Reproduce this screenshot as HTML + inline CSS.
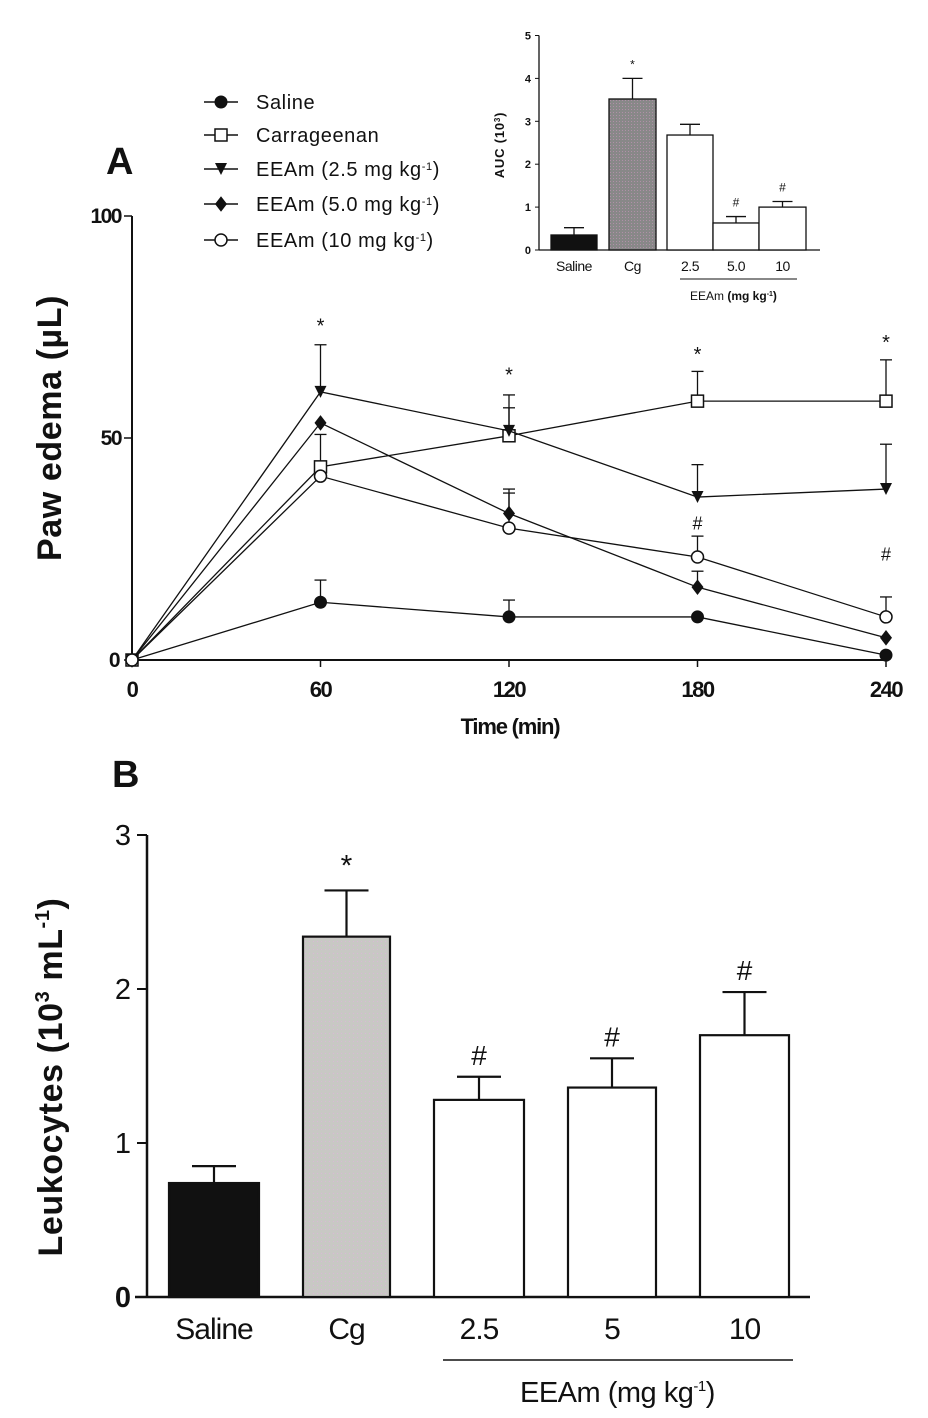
<!DOCTYPE html>
<html><head><meta charset="utf-8"><style>
html,body{margin:0;padding:0;background:#fff;}
svg{display:block;}
text{font-family:"Liberation Sans",Arial,sans-serif;fill:#111;}
</style></head><body>
<svg id="fig" width="928" height="1418" viewBox="0 0 928 1418" xmlns="http://www.w3.org/2000/svg">
<defs>
<pattern id="dots" width="4" height="4" patternUnits="userSpaceOnUse"><rect width="4" height="4" fill="#c8c8c4"/><rect x="1" y="1" width="1" height="1" fill="#d9b8d6"/></pattern>
<pattern id="dots2" width="3" height="3" patternUnits="userSpaceOnUse"><rect width="3" height="3" fill="#888"/><rect x="1" y="1" width="1" height="1" fill="#b090a8"/></pattern>
</defs>
<g id="gA"></g>
<g id="gI"></g>
<g id="gB"></g>
</svg>
<script>
// ---- Panel A data ----
const timePoints = [0, 60, 120, 180, 240];
const salineMean = [0, 13, 9.7, 9.7, 1.1];
const salineErr = [0, 5, 3.8, 0, 0];
const cgMean = [0, 43.5, 50.5, 58.3, 58.3];
const cgErr = [0, 7.3, 9.2, 6.7, 9.3];
const eeam25Mean = [0, 60.4, 51.6, 36.7, 38.5];
const eeam25Err = [0, 10.6, 5.2, 7.3, 10.1];
const eeam5Mean = [0, 53.4, 33, 16.4, 5];
const eeam5Err = [0, 0, 5.5, 3.6, 0];
const eeam10Mean = [0, 41.4, 29.7, 23.2, 9.7];
const eeam10Err = [0, 0, 7.9, 4.7, 4.5];
const aTicksY = [0, 50, 100];
const aTicksX = [0, 60, 120, 180, 240];
const starTimes = [60, 120, 180, 240];
const starVals = [76, 65, 69.6, 72.3];
const hashTimes = [180, 240];
const hashVals = [31, 24];
// ---- Inset data ----
const insetCats = ["Saline", "Cg", "2.5", "5.0", "10"];
const insetMean = [0.35, 3.52, 2.68, 0.63, 1.0];
const insetErr = [0.17, 0.48, 0.25, 0.15, 0.13];
const insetTicks = [0, 1, 2, 3, 4, 5];
const insetMarks = ["", "*", "", "#", "#"];
// ---- Panel B data ----
const bCats = ["Saline", "Cg", "2.5", "5", "10"];
const bMean = [0.74, 2.34, 1.28, 1.36, 1.70];
const bErr = [0.11, 0.30, 0.15, 0.19, 0.28];
const bTicks = [0, 1, 2, 3];
const bMarks = ["", "*", "#", "#", "#"];

const NS = "http://www.w3.org/2000/svg";
function mk(parent, tag, attrs, txt) {
  const e = document.createElementNS(NS, tag);
  for (const k in attrs) e.setAttribute(k, attrs[k]);
  if (txt !== undefined) e.textContent = txt;
  parent.appendChild(e);
  return e;
}

// ===== Panel A =====
const gA = document.getElementById('gA');
const ax = t => 132 + (t / 240) * (886 - 132);
const ay = v => 660 - v * 4.44;
let e;
e = mk(gA, 'text', {x: 106, y: 174, 'font-size': 38, 'font-weight': 'bold'}, 'A');
 
e = mk(gA, 'line', {x1: 132, y1: ay(100), x2: 132, y2: 660, stroke: '#111', 'stroke-width': 2});
 
e = mk(gA, 'line', {x1: 132, y1: 660, x2: 886, y2: 660, stroke: '#111', 'stroke-width': 2});
 
aTicksY.forEach(v => {
  e = mk(gA, 'line', {x1: 124, y1: ay(v), x2: 132, y2: ay(v), stroke: '#111', 'stroke-width': 1.5});
   
  e = mk(gA, 'text', {x: v === 0 ? 119 : 121, y: ay(v) + 7, 'font-size': 21, 'font-weight': 'bold', 'text-anchor': 'end', 'letter-spacing': -1.5}, String(v));
   
});
aTicksX.forEach(t => {
  e = mk(gA, 'line', {x1: ax(t), y1: 660, x2: ax(t), y2: 667, stroke: '#111', 'stroke-width': 1.5});
   
  e = mk(gA, 'text', {x: ax(t), y: 697, 'font-size': 22, 'font-weight': 'bold', 'text-anchor': 'middle', 'letter-spacing': -1.5}, String(t));
   
});
e = mk(gA, 'text', {x: 510, y: 734, 'font-size': 22, 'font-weight': 'bold', 'text-anchor': 'middle', 'letter-spacing': -1.2}, 'Time (min)');
 
e = mk(gA, 'text', {x: 0, y: 0, 'font-size': 34, 'font-weight': 'bold', 'text-anchor': 'middle', 'letter-spacing': 0.6, transform: 'translate(61,428) rotate(-90)'}, 'Paw edema (µL)');
 

function marker(g, type, x, y, s) {
  let m;
  if (type === 'circleF') m = mk(g, 'circle', {cx: x, cy: y, r: s, fill: '#111', stroke: '#111'});
  else if (type === 'square') m = mk(g, 'rect', {x: x - s, y: y - s, width: 2 * s, height: 2 * s, fill: '#fff', stroke: '#111', 'stroke-width': 1.5});
  else if (type === 'tri') m = mk(g, 'polygon', {points: `${x - s},${y - s} ${x + s},${y - s} ${x},${y + s}`, fill: '#111'});
  else if (type === 'diamond') m = mk(g, 'polygon', {points: `${x},${y - s * 1.3} ${x + s},${y} ${x},${y + s * 1.3} ${x - s},${y}`, fill: '#111'});
  else m = mk(g, 'circle', {cx: x, cy: y, r: s, fill: '#fff', stroke: '#111', 'stroke-width': 1.5});
  return m;
}
const series = [
  {name: 'saline', mean: salineMean, err: salineErr, type: 'circleF', label: 'Saline'},
  {name: 'carrageenan', mean: cgMean, err: cgErr, type: 'square', label: 'Carrageenan'},
  {name: 'eeam-2-5', mean: eeam25Mean, err: eeam25Err, type: 'tri', label: 'EEAm (2.5 mg kg'},
  {name: 'eeam-5-0', mean: eeam5Mean, err: eeam5Err, type: 'diamond', label: 'EEAm (5.0 mg kg'},
  {name: 'eeam-10', mean: eeam10Mean, err: eeam10Err, type: 'circleO', label: 'EEAm (10 mg kg'}
];
series.forEach(s => {
  const g = mk(gA, 'g', {});
   
  s.mean.forEach((v, i) => {
    if (s.err[i] > 0) {
      const y1 = ay(v), y2 = ay(v + s.err[i]);
      e = mk(g, 'line', {x1: ax(timePoints[i]), y1: y1, x2: ax(timePoints[i]), y2: y2, stroke: '#111', 'stroke-width': 1.3});
       
      e = mk(g, 'line', {x1: ax(timePoints[i]) - 6, y1: y2, x2: ax(timePoints[i]) + 6, y2: y2, stroke: '#111', 'stroke-width': 1.3});
       
    }
  });
  const pts = s.mean.map((v, i) => ax(timePoints[i]) + ',' + ay(v)).join(' ');
  e = mk(g, 'polyline', {points: pts, fill: 'none', stroke: '#111', 'stroke-width': 1.3});
   
  s.mean.forEach((v, i) => {
    e = marker(g, s.type, ax(timePoints[i]), ay(v), 6);
     
  });
});
starTimes.forEach((t, i) => {
  e = mk(gA, 'text', {x: ax(t), y: ay(starVals[i]) + 10, 'font-size': 20, 'text-anchor': 'middle'}, '*');
   
});
hashTimes.forEach((t, i) => {
  e = mk(gA, 'text', {x: ax(t), y: ay(hashVals[i]) + 7, 'font-size': 18, 'text-anchor': 'middle'}, '#');
   
});
// legend
const leg = mk(gA, 'g', {});
 
const legY = [102, 135, 169, 204, 240];
series.forEach((s, i) => {
  const g = mk(leg, 'g', {});
   
  mk(g, 'line', {x1: 204, y1: legY[i], x2: 238, y2: legY[i], stroke: '#111', 'stroke-width': 1.5});
  marker(g, s.type, 221, legY[i], 6);
  const t = mk(g, 'text', {x: 256, y: legY[i] + 7, 'font-size': 20, 'letter-spacing': 0.6}, s.label);
  if (i >= 2) { mk(t, 'tspan', {dy: -6, 'font-size': 11}, '-1'); mk(t, 'tspan', {dy: 6}, ')'); }
});

// ===== Inset =====
const gI = document.getElementById('gI');
const iy = v => 250 - v * 42.9;
const iBarX = [551, 609, 667, 713, 759];
const iBarW = [46, 47, 46, 46, 47];
e = mk(gI, 'line', {x1: 539, y1: iy(5), x2: 539, y2: 250, stroke: '#111', 'stroke-width': 1.3});
 
e = mk(gI, 'line', {x1: 539, y1: 250, x2: 820, y2: 250, stroke: '#111', 'stroke-width': 1.3});
 
insetTicks.forEach(v => {
  mk(gI, 'line', {x1: 535, y1: iy(v), x2: 539, y2: iy(v), stroke: '#111', 'stroke-width': 1});
  e = mk(gI, 'text', {x: 531, y: iy(v) + 4, 'font-size': 11, 'font-weight': 'bold', 'text-anchor': 'end'}, String(v));
   
});
e = mk(gI, 'text', {x: 0, y: 0, 'font-size': 13, 'font-weight': 'bold', 'text-anchor': 'middle', 'letter-spacing': 0.8, transform: 'translate(504,145) rotate(-90)'}, 'AUC (10');
mk(e, 'tspan', {dy: -4, 'font-size': 8}, '3'); mk(e, 'tspan', {dy: 4}, ')');
 
const iFills = ['#111', 'url(#dots2)', '#fff', '#fff', '#fff'];
insetCats.forEach((c, i) => {
  const cx = iBarX[i] + iBarW[i] / 2;
  e = mk(gI, 'line', {x1: cx, y1: iy(insetMean[i]), x2: cx, y2: iy(insetMean[i] + insetErr[i]), stroke: '#111', 'stroke-width': 1.3});
   
  mk(gI, 'line', {x1: cx - 10, y1: iy(insetMean[i] + insetErr[i]), x2: cx + 10, y2: iy(insetMean[i] + insetErr[i]), stroke: '#111', 'stroke-width': 1.3});
  e = mk(gI, 'rect', {x: iBarX[i], y: iy(insetMean[i]), width: iBarW[i], height: 250 - iy(insetMean[i]), fill: iFills[i], stroke: '#111', 'stroke-width': 1.3});
   
  e = mk(gI, 'text', {x: cx, y: 271, 'font-size': 14, 'text-anchor': 'middle', 'letter-spacing': -0.5}, c);
   
  if (insetMarks[i]) {
    e = mk(gI, 'text', {x: cx, y: iy(insetMean[i] + insetErr[i]) - 10, 'font-size': 12, 'text-anchor': 'middle'}, insetMarks[i]);
     
  }
});
mk(gI, 'line', {x1: 680, y1: 279, x2: 797, y2: 279, stroke: '#111', 'stroke-width': 1});
e = mk(gI, 'text', {x: 690, y: 300, 'font-size': 12}, 'EEAm ');
mk(e, 'tspan', {'font-weight': 'bold'}, '(mg kg'); mk(e, 'tspan', {dy: -4, 'font-size': 7, 'font-weight': 'bold'}, '-1'); mk(e, 'tspan', {dy: 4, 'font-weight': 'bold'}, ')');
 

// ===== Panel B =====
const gB = document.getElementById('gB');
const by = v => 1297 - v * 154;
const bBarX = [169, 303, 434, 568, 700];
const bBarW = [90, 87, 90, 88, 89];
e = mk(gB, 'text', {x: 112, y: 787, 'font-size': 38, 'font-weight': 'bold'}, 'B');
 
e = mk(gB, 'line', {x1: 147, y1: by(3), x2: 147, y2: 1297, stroke: '#111', 'stroke-width': 2.5});
 
e = mk(gB, 'line', {x1: 135, y1: 1297, x2: 810, y2: 1297, stroke: '#111', 'stroke-width': 2.5});
 
bTicks.forEach(v => {
  mk(gB, 'line', {x1: 137, y1: by(v), x2: 147, y2: by(v), stroke: '#111', 'stroke-width': 2});
  e = mk(gB, 'text', {x: 131, y: by(v) + 10, 'font-size': 29, 'text-anchor': 'end', 'font-weight': v === 0 ? 'bold' : 'normal'}, String(v));
   
});
e = mk(gB, 'text', {x: 0, y: 0, 'font-size': 34, 'font-weight': 'bold', 'text-anchor': 'middle', 'letter-spacing': 0.6, transform: 'translate(62,1077) rotate(-90)'}, 'Leukocytes (10');
mk(e, 'tspan', {dy: -13, 'font-size': 20}, '3'); mk(e, 'tspan', {dy: 13}, ' mL'); mk(e, 'tspan', {dy: -13, 'font-size': 20}, '-1'); mk(e, 'tspan', {dy: 13}, ')');
 
const bFills = ['#111', 'url(#dots)', '#fff', '#fff', '#fff'];
bCats.forEach((c, i) => {
  const cx = bBarX[i] + bBarW[i] / 2;
  const top = by(bMean[i] + bErr[i]);
  e = mk(gB, 'line', {x1: cx, y1: by(bMean[i]), x2: cx, y2: top, stroke: '#111', 'stroke-width': 2.2});
   
  mk(gB, 'line', {x1: cx - 22, y1: top, x2: cx + 22, y2: top, stroke: '#111', 'stroke-width': 2.2});
  e = mk(gB, 'rect', {x: bBarX[i], y: by(bMean[i]), width: bBarW[i], height: 1297 - by(bMean[i]), fill: bFills[i], stroke: '#111', 'stroke-width': 2.2});
   
  e = mk(gB, 'text', {x: cx, y: 1339, 'font-size': 30, 'text-anchor': 'middle', 'letter-spacing': -1}, c);
   
  if (bMarks[i]) {
    e = mk(gB, 'text', {x: cx, y: top - (bMarks[i] === '*' ? 15 : 12), 'font-size': bMarks[i] === '*' ? 30 : 28, 'text-anchor': 'middle'}, bMarks[i]);
     
  }
});
mk(gB, 'line', {x1: 443, y1: 1360, x2: 793, y2: 1360, stroke: '#111', 'stroke-width': 1.5});
e = mk(gB, 'text', {x: 520, y: 1402, 'font-size': 29, 'letter-spacing': -0.5}, 'EEAm (mg kg');
mk(e, 'tspan', {dy: -11, 'font-size': 15}, '-1'); mk(e, 'tspan', {dy: 11}, ')');
 
</script>
</body></html>
